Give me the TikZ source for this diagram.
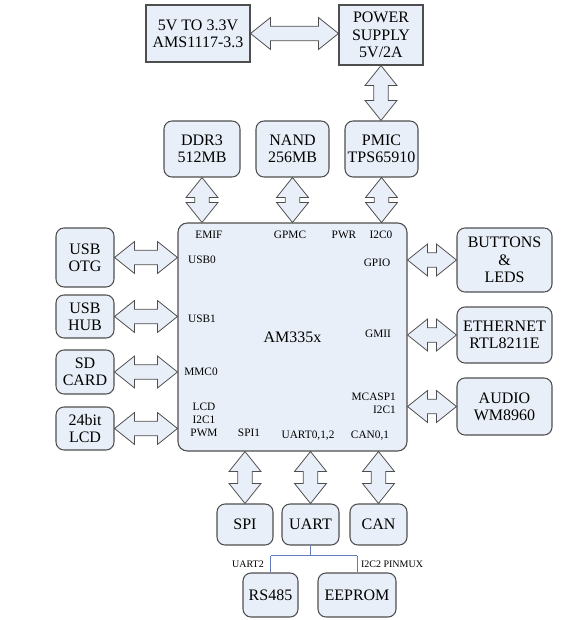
\documentclass[tikz,border=0pt]{standalone}
\usepackage{fontspec}
\setmainfont{Liberation Serif}
\usetikzlibrary{calc}

\definecolor{boxfill}{RGB}{233,239,248}
\definecolor{boxline}{RGB}{78,78,78}
\definecolor{treeline}{RGB}{96,124,186}

\tikzset{
  blk/.style={draw=boxline,fill=boxfill,line width=0.8pt,align=center,inner sep=0pt,font=\fontsize{12}{13}\selectfont},
  rblk/.style={blk,rounded corners=6pt},
  pin/.style={inner sep=0.75pt,font=\fontsize{8.5}{9.8}\selectfont},
  sub/.style={inner sep=0.75pt,font=\fontsize{7.5}{9}\selectfont},
  tree/.style={draw=treeline,line width=0.6pt},
  % fat double arrow of length #1, pointing along local x
  pics/busarrow/.style={code={
    \draw[draw=boxline,fill=boxfill,line width=0.6pt,line join=miter]
      (0pt,0pt) -- (15pt,12pt) -- (15pt,5.5pt) -- ({#1-15pt},5.5pt) -- ({#1-15pt},12pt)
      -- ({#1},0pt) -- ({#1-15pt},-12pt) -- ({#1-15pt},-5.5pt) -- (15pt,-5.5pt)
      -- (15pt,-12pt) -- cycle;
  }},
}
\newcommand\busarrow[2]{\path let \p1=(#1), \p2=(#2),
  \n1={veclen(\x2-\x1,\y2-\y1)}, \n2={atan2(\y2-\y1,\x2-\x1)} in
  (\p1) pic[rotate={-\n2}] {busarrow=\n1};}

\begin{document}
\begin{tikzpicture}[x=0.75pt,y=0.75pt,yscale=-1,xscale=1]
\useasboundingbox (0,0) rectangle (560,620);

%Shape: Rect
\node[blk,minimum width=78pt,minimum height=42.75pt] (ldo) at (198,33.5) {5V TO 3.3V\\AMS1117-3.3};
\node[blk,minimum width=63pt,minimum height=45pt] (psu) at (381,35) {POWER\\SUPPLY\\5V/2A};

%Shape: Rounded Rect (top row)
\node[rblk,minimum width=57pt,minimum height=42pt] (ddr) at (202,149) {DDR3\\512MB};
\node[rblk,minimum width=54.75pt,minimum height=42pt] (nand) at (292.5,149) {NAND\\256MB};
\node[rblk,minimum width=54.75pt,minimum height=42pt] (pmic) at (381.5,149) {PMIC\\TPS65910};

%Shape: Rounded Rect (processor)
\node[rblk,rounded corners=7pt,minimum width=171.75pt,minimum height=171pt] (cpu) at (292.5,337) {AM335x};

%Shape: Rounded Rect (left column)
\node[rblk,minimum width=43.5pt,minimum height=44.25pt] (usbotg) at (85,257.5) {USB\\OTG};
\node[rblk,minimum width=43.5pt,minimum height=32.25pt] (usbhub) at (85,316.5) {USB\\HUB};
\node[rblk,minimum width=43.5pt,minimum height=33pt] (sdcard) at (85,372) {SD\\CARD};
\node[rblk,minimum width=43.5pt,minimum height=32.25pt] (lcd) at (85,428.5) {24bit\\LCD};

%Shape: Rounded Rect (right column)
\node[rblk,minimum width=71.25pt,minimum height=48pt] (btn) at (504.5,260) {BUTTONS\\\&\\LEDS};
\node[rblk,minimum width=71.25pt,minimum height=42pt] (eth) at (504.5,335) {ETHERNET\\RTL8211E};
\node[rblk,minimum width=71.25pt,minimum height=42.75pt] (audio) at (504.5,406.5) {AUDIO\\WM8960};

%Shape: Rounded Rect (bottom row)
\node[rblk,minimum width=42pt,minimum height=30.75pt] (spi) at (245,524.5) {SPI};
\node[rblk,minimum width=42.75pt,minimum height=30.75pt] (uart) at (310.5,524.5) {UART};
\node[rblk,minimum width=42.75pt,minimum height=30.75pt] (can) at (378.5,524.5) {CAN};
\node[rblk,minimum width=41.25pt,minimum height=33pt] (rs485) at (270.5,595) {RS485};
\node[rblk,minimum width=58.5pt,minimum height=33pt] (eeprom) at (357,595) {EEPROM};

%Block Arrows
\busarrow{ldo.east}{ldo.east -| psu.west}
\busarrow{psu.south}{psu.south |- pmic.north}
\busarrow{ddr.south}{ddr.south |- cpu.north}
\busarrow{nand.south}{nand.south |- cpu.north}
\busarrow{pmic.south}{pmic.south |- cpu.north}
\busarrow{usbotg.east}{usbotg.east -| cpu.west}
\busarrow{usbhub.east}{usbhub.east -| cpu.west}
\busarrow{sdcard.east}{sdcard.east -| cpu.west}
\busarrow{lcd.east}{lcd.east -| cpu.west}
\busarrow{btn.west -| cpu.east}{btn.west}
\busarrow{eth.west -| cpu.east}{eth.west}
\busarrow{audio.west -| cpu.east}{audio.west}
\busarrow{spi.north |- cpu.south}{spi.north}
\busarrow{uart.north |- cpu.south}{uart.north}
\busarrow{can.north |- cpu.south}{can.north}

% Text Node (pins)
\node[pin] (emif) at (209,235) {EMIF};
\node[pin] (gpmc) at (290,235) {GPMC};
\node[pin] (pwr) at (344,235) {PWR};
\node[pin] (i2c0) at (381,235) {I2C0};
\node[pin] (usb0) at (202,260) {USB0};
\node[pin] (gpio) at (377,263) {GPIO};
\node[pin] (usb1) at (202,319) {USB1};
\node[pin] (gmii) at (378,334) {GMII};
\node[pin] (mmc0) at (201,372) {MMC0};
\node[pin,align=right,anchor=east] (mcasp) at (397,403) {MCASP1\\I2C1};
\node[pin,align=center] (lcdpins) at (204,420) {LCD\\I2C1\\PWM};
\node[pin] (spi1) at (249,433) {SPI1};
\node[pin] (uartpins) at (308,436) {UART0,1,2};
\node[pin] (canpins) at (370,436) {CAN0,1};

%Straight Lines (UART split)
\draw[tree] (uart.south) -- ++(0,10) coordinate (split);
\draw[tree] (split -| rs485.north) -- (split -| eeprom.north);
\draw[tree] (split -| rs485.north) -- node[sub,left,xshift=-4pt] (uart2) {UART2} (rs485.north);
\draw[tree] (split -| eeprom.north) -- node[sub,right,xshift=2pt] (pinmux) {I2C2 PINMUX} (eeprom.north);

\end{tikzpicture}
\end{document}
